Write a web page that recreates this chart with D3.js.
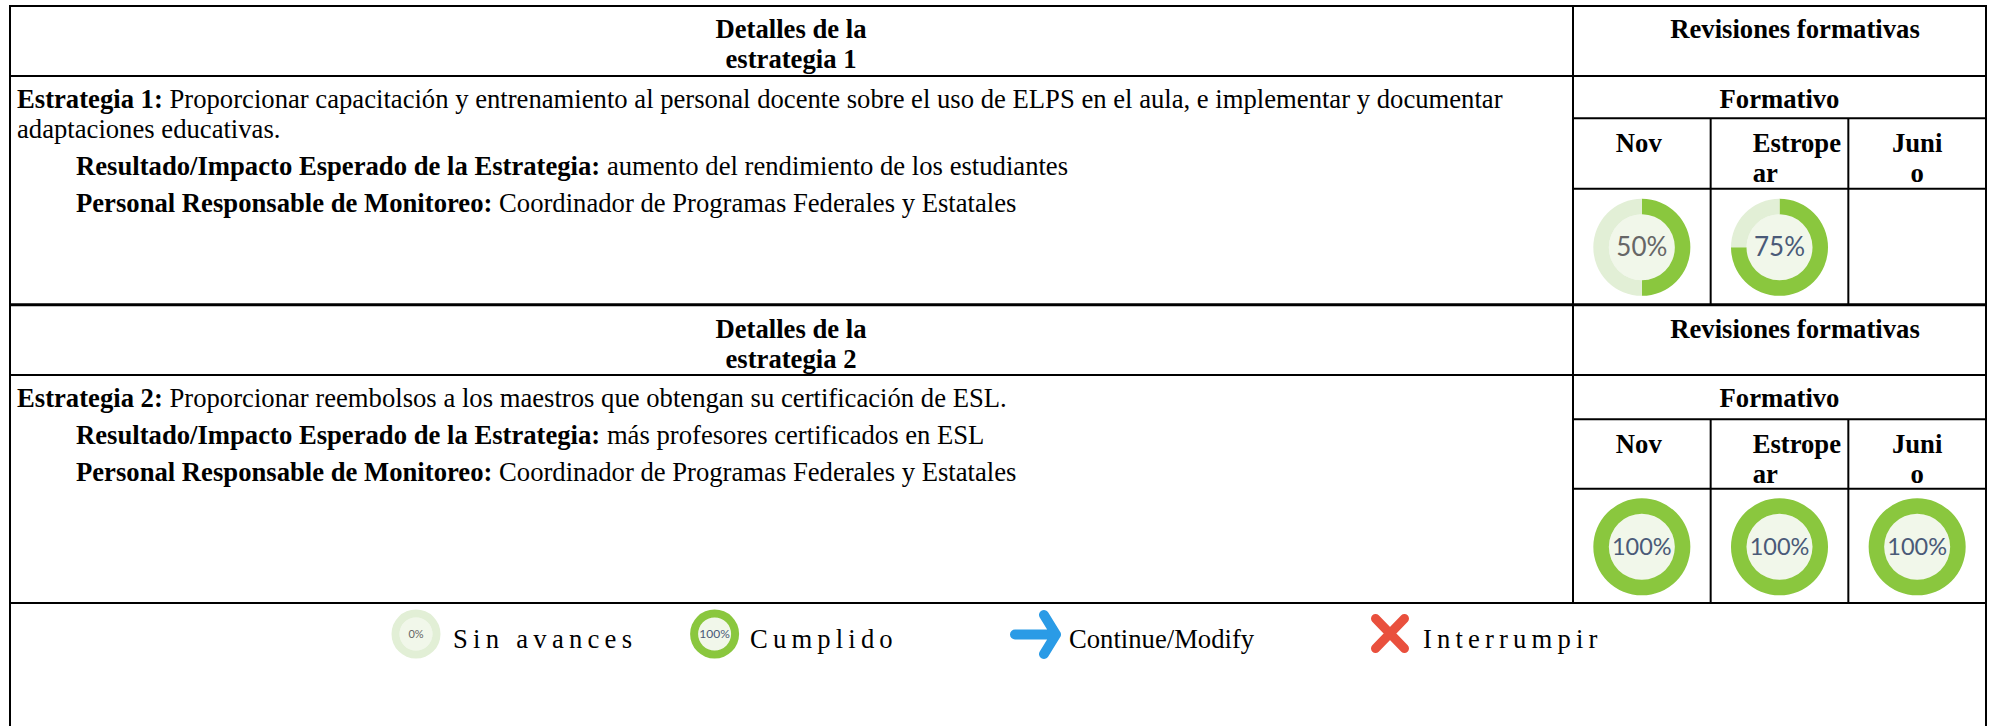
<!DOCTYPE html>
<html>
<head>
<meta charset="utf-8">
<script src="https://cdnjs.cloudflare.com/ajax/libs/d3/7.8.5/d3.min.js"></script>
<style>
    html, body { margin: 0; padding: 0; background: #fff; }
    svg { display: block; }
    text { font-family: "Liberation Serif", serif; font-size: 26.67px; fill: #000; }
    .b { font-weight: bold; }
</style>
</head>
<body>
<svg id="chart" width="1991" height="726"></svg>
<script>
// values
var months = ["Nov", "Estropear", "Junio"];
var monthLines = [["Nov"], ["Estrope", "ar"], ["Juni", "o"]];
var review1 = [50, 75, null];
var review2 = [100, 100, 100];
var legendLabels = ["Sin avances", "Cumplido", "Continue/Modify", "Interrumpir"];

var strategy1Lines = [
    [["Estrategia 1: ", "b"], ["Proporcionar capacitación y entrenamiento al personal docente sobre el uso de ELPS en el aula, e implementar y documentar", ""]],
    [["adaptaciones educativas.", ""]]
];
var strategy1Result = "aumento del rendimiento de los estudiantes";
var strategy2Lines = [
    [["Estrategia 2: ", "b"], ["Proporcionar reembolsos a los maestros que obtengan su certificación de ESL.", ""]]
];
var strategy2Result = "más profesores certificados en ESL";
var monitor = "Coordinador de Programas Federales y Estatales";

var GREEN = "#8ac73e", PALE = "#e2efd6", CORE = "#f1f7ea";
var LEFT = 10, RIGHT = 1986, SPLIT = 1573;

var svg = d3.select("#chart");
var x = d3.scaleBand().domain(months).range([SPLIT, RIGHT]);
var pie = d3.pie().sort(null).value(function(d) { return d; });

function line(x1, y1, x2, y2, w) {
    svg.append("line").attr("x1", x1).attr("y1", y1).attr("x2", x2).attr("y2", y2)
        .attr("stroke", "#000").attr("stroke-width", w || 2);
}

function label(px, py, runs, anchor) {
    var t = svg.append("text").attr("x", px).attr("y", py).attr("text-anchor", anchor || "start");
    runs.forEach(function(r) {
        t.append("tspan").attr("class", r[1]).attr("xml:space", "preserve").text(r[0]);
    });
    return t;
}

function donut(cx, cy, outer, inner, value, size) {
    var g = svg.append("g").attr("transform", "translate(" + cx + "," + cy + ")");
    var arc = d3.arc().outerRadius(outer).innerRadius(inner);
    g.append("circle").attr("r", inner).attr("fill", CORE);
    g.selectAll("path")
        .data(pie([value, 100 - value]))
        .enter().append("path")
        .attr("d", arc)
        .attr("fill", function(d, i) { return i == 0 ? GREEN : PALE; });
    g.append("text")
        .attr("text-anchor", "middle")
        .attr("y", size * 0.34)
        .style("font-family", "Lato, 'Open Sans', sans-serif")
        .style("font-size", size + "px")
        .style("fill", value == 100 || value == 75 ? "#4a5a78" : "#666")
        .text(value + "%");
}

// b: baselines and rules of one strategy block
function block(b, title, lines, result, values) {
    line(LEFT, b.head, RIGHT, b.head);
    line(SPLIT, b.fmt, RIGHT, b.fmt);
    line(SPLIT, b.cell, RIGHT, b.cell);
    months.forEach(function(m, i) {
        if (i > 0) line(x(m), b.fmt, x(m), b.bottom);
    });

    label(791, b.top + 32, [[title[0], "b"]], "middle");
    label(791, b.top + 62, [[title[1], "b"]], "middle");
    label(1795, b.top + 32, [["Revisiones formativas", "b"]], "middle");
    label(1779.5, b.head + 31.5, [["Formativo", "b"]], "middle");

    lines.forEach(function(l, i) {
        label(17, b.head + 32 + i * 29.7, l);
    });
    label(76, b.result, [["Resultado/Impacto Esperado de la Estrategia: ", "b"], [result, ""]]);
    label(76, b.result + 36.7, [["Personal Responsable de Monitoreo: ", "b"], [monitor, ""]]);

    monthLines.forEach(function(ls, i) {
        var cx = x(months[i]) + x.bandwidth() / 2;
        ls.forEach(function(s, k) {
            if (i == 1) label(x(months[i]) + 42, b.fmt + 33.5 + k * 30, [[s, "b"]]);
            else label(cx - (i == 0 ? 3 : 0), b.fmt + 33.5 + k * 30, [[s, "b"]], "middle");
        });
    });

    values.forEach(function(v, i) {
        if (v === null) return;
        donut(x(months[i]) + x.bandwidth() / 2, (b.cell + b.bottom) / 2 + 1, 48.5, 33, v, v == 100 ? 23.5 : 26);
    });
}

// outer frame
line(LEFT, 6, RIGHT, 6);
line(LEFT, 5, LEFT, 726);
line(RIGHT, 5, RIGHT, 726);
line(SPLIT, 6, SPLIT, 603);

block({top: 6, head: 76, fmt: 118.3, cell: 188.7, bottom: 304, result: 175},
    ["Detalles de la", "estrategia 1"], strategy1Lines, strategy1Result, review1);
line(LEFT, 304.7, RIGHT, 304.7, 3);
block({top: 306, head: 375, fmt: 419.3, cell: 488.7, bottom: 603, result: 444},
    ["Detalles de la", "estrategia 2"], strategy2Lines, strategy2Result, review2);
line(LEFT, 603, RIGHT, 603);

// legend
donut(416, 634, 24.5, 16.5, 0, 11);
donut(714.6, 634, 24.5, 16.5, 100, 12);
label(453, 648, [[legendLabels[0], ""]]).style("letter-spacing", "5.25px");
label(750, 648, [[legendLabels[1], ""]]).style("letter-spacing", "5.15px");
label(1069, 648, [[legendLabels[2], ""]]);
label(1423, 648, [[legendLabels[3], ""]]).style("letter-spacing", "5.15px");

var arrow = d3.line();
svg.append("path")
    .attr("d", arrow([[1015, 634.5], [1056, 634.5]]) + arrow([[1044, 615], [1056, 634.5], [1044, 654]]))
    .attr("fill", "none").attr("stroke", "#2a9be6").attr("stroke-width", 10)
    .attr("stroke-linecap", "round").attr("stroke-linejoin", "round");
svg.append("path")
    .attr("d", arrow([[1375.5, 618.5], [1404.5, 648.5]]) + arrow([[1404.5, 618.5], [1375.5, 648.5]]))
    .attr("fill", "none").attr("stroke", "#e9503d").attr("stroke-width", 9)
    .attr("stroke-linecap", "round");
</script>
</body>
</html>
